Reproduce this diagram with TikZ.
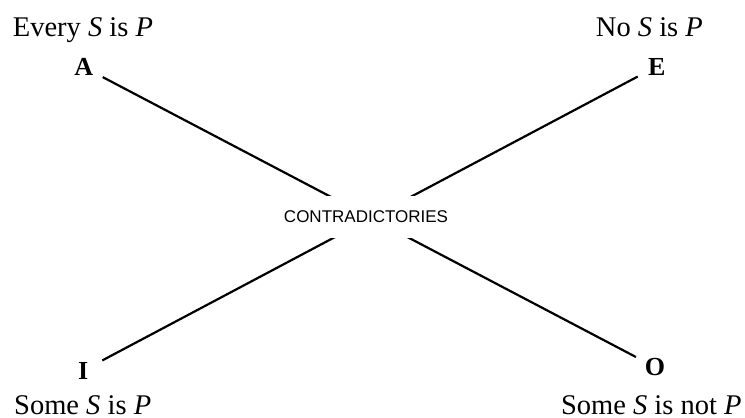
\documentclass[tikz,border=0pt]{standalone}
\usepackage{fontspec}
\setmainfont{Liberation Serif}
\setsansfont{Liberation Sans}
\begin{document}
\begin{tikzpicture}[x=1pt,y=-1pt,
  prop/.style={inner sep=0pt,font=\fontsize{28.5}{30}\selectfont},
  corner/.style={inner sep=0pt,anchor=base,font=\fontsize{26}{28}\selectfont\bfseries},
  link/.style={line width=2.2pt,shorten <=21.5pt,shorten >=21.5pt},
  centre/.style={fill=white,inner sep=0pt,minimum height=42pt,minimum width=180pt,font=\sffamily\fontsize{17}{19}\selectfont}]
\useasboundingbox (0,0) rectangle (745,418);
\node[prop,anchor=base west] (tA) at (12.7,36) {Every \textit{S} is \textit{P}};
\node[prop,anchor=base east] (tE) at (703,36) {No \textit{S} is \textit{P}};
\node[prop,anchor=base west] (tI) at (14,414) {Some \textit{S} is \textit{P}};
\node[prop,anchor=base east] (tO) at (741.7,414) {Some \textit{S} is not \textit{P}};
\node[corner] (A) at (83.7,75.7) {A};
\node[corner] (E) at (656.7,75) {E};
\node[corner] (I) at (83.3,379) {I};
\node[corner] (O) at (655,375.5) {O};
\draw[link] (A.center) -- (O.center);
\draw[link] (E.center) -- (I.center);
\node[centre] (C) at (366,216.5) {CONTRADICTORIES};
\end{tikzpicture}
\end{document}
